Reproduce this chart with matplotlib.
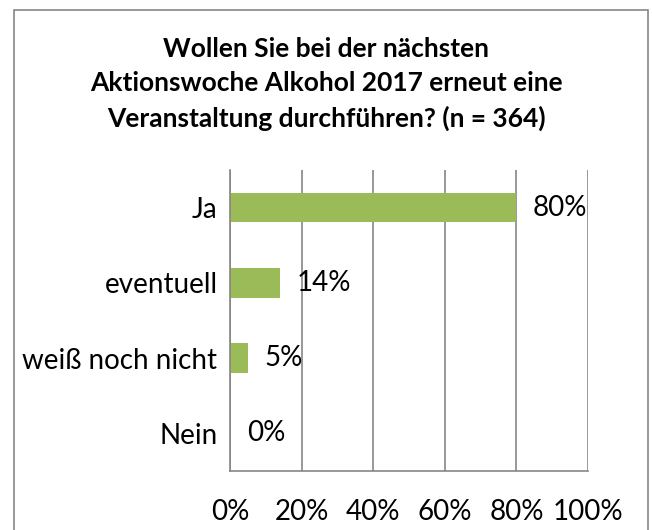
import matplotlib
matplotlib.use('Agg')
import matplotlib.pyplot as plt
from matplotlib.patches import Rectangle

# data (top to bottom as shown)
categories = ['Ja', 'eventuell', 'weiß noch nicht', 'Nein']
shares = [80, 14, 5, 0]
xticks = [0, 20, 40, 60, 80, 100]
title = ('Wollen Sie bei der nächsten\n'
         'Aktionswoche Alkohol 2017 erneut eine\n'
         'Veranstaltung durchführen? (n = 364)')

GREEN = '#9BBB59'
GRAY = '#868686'
FS = 20
plt.rcParams['font.family'] = ['Lato', 'DejaVu Sans']

fig = plt.figure(figsize=(6.52, 5.30), dpi=100)
# outer chart frame (bottom runs off the image)
fig.patches.append(Rectangle((14 / 652, -0.05), (648 - 14) / 652, 1.05 - 10 / 530,
                             transform=fig.transFigure, fill=False,
                             edgecolor=GRAY, lw=1.2))
fig.text(0.5, 1 - 84 / 530, title, ha='center', va='center', fontsize=19,
         fontweight='bold', linespacing=1.48)

ax = fig.add_axes([230 / 652, 1 - 471 / 530, (588 - 230) / 652, (471 - 170) / 530])
y = list(range(len(categories)))
ax.barh(y, shares, height=0.39, color=GREEN, zorder=2)
for yi, v in zip(y, shares):
    ax.annotate(f'{v}%', (v, yi), xytext=(12, 0), textcoords='offset points',
                ha='left', va='center', fontsize=FS)

ax.set_xlim(0, 100)
ax.set_ylim(len(categories) - 0.5, -0.5)
ax.set_xticks(xticks)
ax.set_xticklabels([f'{t}%' for t in xticks])
ax.set_yticks(y)
ax.set_yticklabels(categories)
ax.tick_params(axis='both', length=0, labelsize=FS)
ax.tick_params(axis='x', pad=20)
ax.tick_params(axis='y', pad=9)
ax.grid(axis='x', color=GRAY, lw=1.2, zorder=0)
for s in ['top', 'right']:
    ax.spines[s].set_visible(False)
for s in ['left', 'bottom']:
    ax.spines[s].set_color(GRAY)
    ax.spines[s].set_linewidth(1.2)

fig.savefig('out.png', dpi=100)
